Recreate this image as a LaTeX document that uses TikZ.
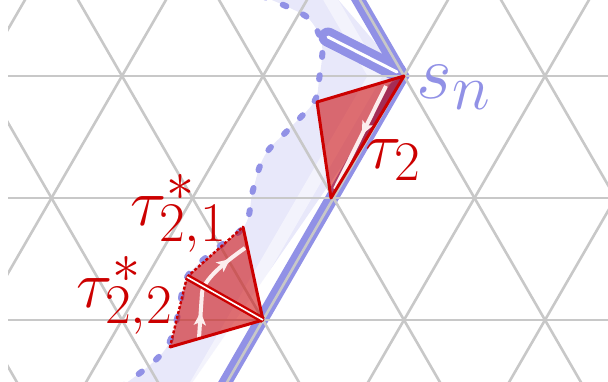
\documentclass[tikz,border=0pt]{standalone}
\usetikzlibrary{arrows.meta,decorations.markings}
\definecolor{gridgray}{RGB}{200,200,200}
\definecolor{pathblue}{RGB}{145,145,230}
\definecolor{lav}{RGB}{232,232,250}
\definecolor{tred}{RGB}{204,0,0}
\definecolor{warr}{RGB}{252,238,238}
\tikzset{
  gridline/.style={draw=gridgray,line width=2.6pt},
  blueedge/.style={draw=pathblue,line width=13pt,line join=miter},
  bluedouble/.style={draw=pathblue,line width=8pt,double=white,double distance=3pt,line cap=round},
  bluedash/.style={draw=pathblue,line width=6pt,line cap=round,dash pattern=on 4pt off 18.5pt},
  tri/.style={fill=tred,fill opacity=0.55},
  redsolid/.style={draw=tred,line width=3pt,line cap=round,line join=round},
  reddash/.style={draw=tred,line width=2.4pt,dash pattern=on 3pt off 2pt},
  reddouble/.style={draw=tred,line width=2.4pt,double=white,double distance=1.6pt},
  warrow/.style={draw=warr,line width=4pt},
  lbl/.style={scale=2.7,anchor=base west,inner sep=0pt},
}
\begin{document}
\begin{tikzpicture}[x=1pt,y=-1pt]
\useasboundingbox (0,0) rectangle (608,381);
% vertices
\coordinate (sn) at (404,76);
\coordinate (top) at (333.5,-46);
\coordinate (mid) at (333.5,198);
\coordinate (low) at (263,320);
\coordinate (bot) at (192.5,442);
\coordinate (tA) at (317,102);
\coordinate (tB) at (331,198);
\coordinate (uA) at (243,227);
\coordinate (uB) at (187,277);
\coordinate (vB) at (170,347);
\coordinate (d1) at (328,37);
\coordinate (d2) at (397,72);
\begin{scope}
\clip (0,0) rectangle (608,381);
% lavender region
\fill[lav] plot[smooth,tension=0.6] coordinates {(262,-4) (290,8) (310,20) (322,45) (319,80) (314,102) (290,128) (265,155) (253,190) (245,225) (215,250) (187,277) (178,315) (168,345) (150,365) (122,386)}
  -- (190,386) -- (sn) -- (335,-4) -- cycle;
% whiter stripe
\draw[white,opacity=0.5,line width=13pt,line join=miter] (304,-46) -- (375,76) -- (163,442);
% blue path
\draw[blueedge] ([xshift=-1.5pt]top) -- ([xshift=-1.5pt]sn) -- ([xshift=-1.5pt]bot);
\draw[bluedouble] (d1) -- (d2);
\end{scope}
% grid
\begin{scope}
\clip (8,0) rectangle (608,381);
\foreach \y in {76,198,320} \draw[gridline] (0,\y) -- (608,\y);
\foreach \k in {-2,...,6} {
  \pgfmathsetmacro\xo{-19+141*\k}
  \draw[gridline] ({\xo-141},-168) -- ({\xo+282},564);
  \draw[gridline] ({\xo+141},-168) -- ({\xo-282},564);
}
\end{scope}
% dashed boundary
\begin{scope}
\clip (0,0) rectangle (608,381);
\draw[bluedash] plot[smooth,tension=0.6] coordinates {(262,-4) (290,8) (310,20) (322,45) (319,80) (314,102) (290,128) (265,155) (253,190) (245,225) (215,250) (187,277) (178,315) (168,345) (150,365) (122,386)};
\end{scope}
% tau_2
\fill[tri] (sn) -- (tA) -- (tB) -- cycle;
\fill[fill=black!30!purple,fill opacity=0.3] (sn) -- (tB) -- (336,188) -- (388,85) -- cycle;
\draw[warrow,postaction={decorate},decoration={markings,mark=at position 0.47 with {\arrow{Stealth[length=13pt,width=12pt,inset=3pt,fill=warr]}}}] (386,86) -- (335,189);
\draw[redsolid] (sn) -- (tA) -- (tB) -- cycle;
% tau*_{2,1} and tau*_{2,2}
\fill[tri] (uA) -- (low) -- (uB) -- cycle;
\fill[tri] (uB) -- (low) -- (vB) -- cycle;
\draw[warrow,postaction={decorate},decoration={markings,
  mark=at position 26pt with {\arrow{Stealth[length=13pt,width=12pt,inset=3pt,fill=warr]}},
  mark=at position 90pt with {\arrow{Stealth[length=13pt,width=12pt,inset=3pt,fill=warr]}}}]
  (199,338) -- (202,293) .. controls (203,280) and (225,262) .. (245,248);
\draw[redsolid] (uA) -- (low) -- (vB);
\draw[reddash] (uB) -- (uA);
\draw[reddash] (uB) -- (vB);
\draw[reddouble] (uB) -- (low);
% labels
\node[lbl,scale=1.15,text=pathblue] (lsn) at (416,98) {\Huge$s_n$};
\node[lbl,text=tred] (lt2) at (365,168) {\Huge$\tau_2$};
\node[lbl,text=tred] (lt21) at (130,225) {\Huge$\tau^*_{2,1}$};
\node[lbl,text=tred] (lt22) at (76,307) {\Huge$\tau^*_{2,2}$};
\end{tikzpicture}
\end{document}
